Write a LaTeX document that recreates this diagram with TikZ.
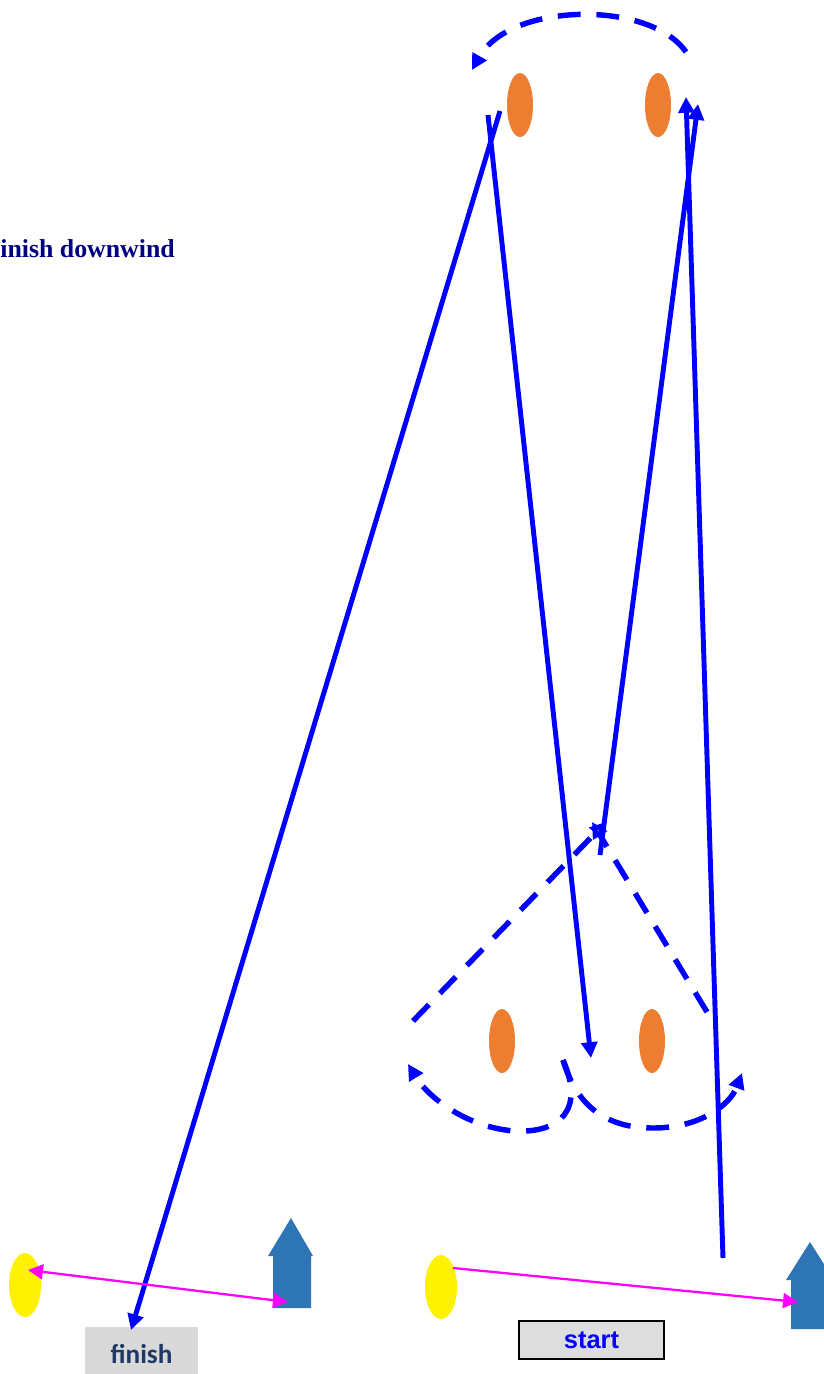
\documentclass[tikz,border=0pt]{standalone}
\usepackage{fontspec}
\newfontfamily\calfont{Carlito}
\newfontfamily\arfont{Liberation Sans}
\newfontfamily\tmfont{Liberation Serif}
\usetikzlibrary{arrows.meta,shapes.geometric}

\definecolor{markorange}{HTML}{ED7D31}
\definecolor{gateblue}{HTML}{2E75B6}
\definecolor{route}{HTML}{0000FF}
\definecolor{navytext}{HTML}{000080}
\definecolor{finishtext}{HTML}{1F3864}
\definecolor{boxgray}{HTML}{D9D9D9}
\definecolor{lineviolet}{HTML}{FF00FF}

\tikzset{
  buoy/.style={ellipse, fill=markorange, inner sep=0pt, minimum width=0.52cm, minimum height=1.28cm},
  pin/.style={ellipse, fill=yellow, inner sep=0pt, minimum width=0.64cm, minimum height=1.28cm},
  leg/.style={draw=route, line width=2.8pt, ->},
  legdash/.style={leg, line width=3.1pt, dash pattern=on 13pt off 9pt},
  gateline/.style={draw=lineviolet, line width=1.3pt, arrows={-Triangle[length=8.5pt,width=8.5pt]}},
}

\begin{document}
\begin{tikzpicture}[x=0.02cm, y=-0.02cm, >={Triangle[length=9pt,width=9pt]}]
    \useasboundingbox (0,0) rectangle (824,1374);

    % --- TITLE ---
    \node (title) at (0,257) [anchor=base west, inner sep=0pt, text=navytext,
        font=\tmfont\bfseries\fontsize{14.7}{17}\selectfont] {inish downwind};

    % --- MARKS ---
    \node[buoy] (m1) at (520,105) {};
    \node[buoy] (m2) at (658,105) {};
    \node[buoy] (g1) at (502,1041) {};
    \node[buoy] (g2) at (652,1041) {};

    % --- LINE PINS AND BOATS ---
    \node[pin] (pinF) at (25,1285) {};
    \node[pin] (pinS) at (441,1287) {};
    \fill[gateblue] (273,1308) -- (273,1256) -- (268,1256) -- (291,1218)
        -- (313,1256) -- (311,1256) -- (311,1308) -- cycle;
    \fill[gateblue] (791,1329) -- (791,1280) -- (786,1280) -- (810,1242)
        -- (834,1280) -- (829,1280) -- (829,1329) -- cycle;

    % --- BOXES ---
    \node (finish) at (141.5,1354) [fill=boxgray, minimum width=2.26cm, minimum height=1.08cm,
        inner sep=0pt, text=finishtext, font=\calfont\bfseries\fontsize{15.5}{18}\selectfont] {finish};
    \node (start) at (591.5,1340) [draw=black, line width=1pt, fill=boxgray!90!white,
        minimum width=2.9cm, minimum height=0.76cm, inner sep=0pt, text=route,
        font=\arfont\bfseries\fontsize{14.5}{17}\selectfont] {start};

    % --- ROUTE POINTS ---
    \coordinate (b1s) at (723,1258);  % first beat
    \coordinate (b1e) at (686,97);
    \coordinate (r1s) at (488,115);   % first run
    \coordinate (r1e) at (591,1058);
    \coordinate (b2s) at (600,855);   % second beat
    \coordinate (b2e) at (698,104);
    \coordinate (r2s) at (500,111);   % run to finish
    \coordinate (r2e) at (131,1330);
    \coordinate (gL) at (413,1021);
    \coordinate (gR) at (707,1012);
    \coordinate (xL) at (606,822);
    \coordinate (xR) at (592,822);

    % --- LEGS ---
    \draw[leg] (b1s) -- (b1e);
    \draw[leg] (r1s) -- (r1e);
    \draw[leg] (b2s) -- (b2e);
    \draw[leg] (r2s) -- (r2e);

    % --- ROUNDINGS ---
    \draw[legdash] (686,52) .. controls (650,0) and (510,2) .. (472,70);
    \draw[legdash] (563,1060) .. controls (585,1110) and (560,1133) .. (515,1131)
        .. controls (470,1128) and (430,1100) .. (408,1064);
    \draw[legdash] (563,1060) .. controls (575,1100) and (600,1128) .. (653,1128)
        .. controls (700,1128) and (730,1105) .. (742,1073);
    \draw[legdash, -{Triangle[open,length=9pt,width=9pt]}] (gL) -- (xL);
    \draw[legdash, -{Triangle[open,length=9pt,width=9pt]}] (gR) -- (xR);

    % --- LINES ---
    \coordinate (fL) at (28,1270);
    \coordinate (fR) at (288,1302);
    \coordinate (sL) at (453,1268);
    \coordinate (sR) at (798,1302);
    \draw[gateline, {Triangle[length=8.5pt,width=8.5pt]}-{Triangle[length=8.5pt,width=8.5pt]}] (fL) -- (fR);
    \draw[gateline] (sL) -- (sR);

\end{tikzpicture}
\end{document}
